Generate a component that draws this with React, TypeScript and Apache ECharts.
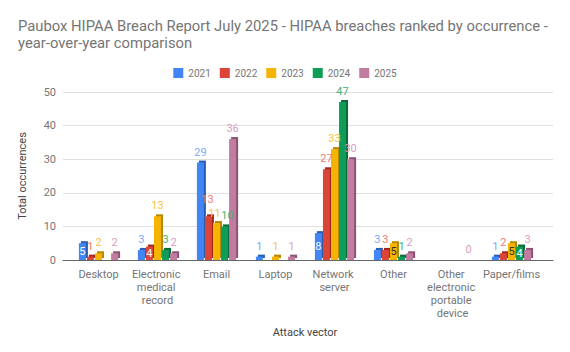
import React, { useEffect, useRef } from "react";
import * as echarts from "echarts";

const categories = [
  "Desktop",
  "Electronic medical record",
  "Email",
  "Laptop",
  "Network server",
  "Other",
  "Other electronic portable device",
  "Paper/films",
];
const years = ["2021", "2022", "2023", "2024", "2025"];
const v2021 = [5, 3, 29, 1, 8, 3, null, 1];
const v2022 = [1, 4, 13, null, 27, 3, null, 2];
const v2023 = [2, 13, 11, 1, 33, 5, null, 5];
const v2024 = [null, 3, 10, null, 47, 1, null, 4];
const v2025 = [2, 2, 36, 1, 30, 2, 0, 3];
const yTicks = [0, 10, 20, 30, 40, 50];

const seriesValues = [v2021, v2022, v2023, v2024, v2025];
const colors = ["#4285f4", "#db4437", "#f4b400", "#0f9d58", "#c27ba0"];
const shadeColors = ["#2a5db0", "#a3281d", "#b88700", "#08683a", "#8a5273"];
const labelColors = ["#7baaf7", "#f07b72", "#f7c443", "#45b07a", "#d79ebf"];
const insideText: Record<string, string> = {
  "0-0": "#ffffff",
  "1-1": "#ffffff",
  "0-4": "#ffffff",
  "2-5": "#333333",
  "2-7": "#333333",
  "3-7": "#ffffff",
};
const labelNudge: Record<string, number[]> = {
  "1-2": [-1, -6],
  "2-2": [-2, 1],
  "3-2": [3, 0],
};

const FONT = "Roboto, sans-serif";

export default function App() {
  const ref = useRef<HTMLDivElement>(null);
  useEffect(() => {
    document.body.style.margin = "0";
    if (!ref.current) return;
    const chart = echarts.init(ref.current, null, { renderer: "svg" });
    const series: any[] = seriesValues.map((vals, s) => ({
      name: years[s],
      type: "bar",
      xAxisIndex: 1,
      yAxisIndex: 1,
      barWidth: 7,
      barGap: "15%",
      itemStyle: {
        color: colors[s],
        shadowColor: shadeColors[s],
        shadowBlur: 0,
        shadowOffsetX: 2,
        shadowOffsetY: -2,
      },
      data: vals.map((v, c) => {
        const key = `${s}-${c}`;
        if (v === null) return null;
        if (insideText[key]) {
          return {
            value: v,
            label: {
              show: true,
              position: "inside",
              color: insideText[key],
              fontSize: 11,
              fontFamily: FONT,
            },
          };
        }
        if (labelNudge[key]) {
          return { value: v, label: { offset: labelNudge[key] } };
        }
        return { value: v };
      }),
      label: {
        show: true,
        position: "top",
        distance: 5,
        color: labelColors[s],
        fontSize: 11,
        fontFamily: FONT,
      },
    }));
    chart.setOption({
      animation: false,
      color: colors,
      textStyle: { fontFamily: FONT },
      title: {
        text: "Paubox HIPAA Breach Report July 2025 - HIPAA breaches ranked by occurrence -\nyear-over-year comparison",
        left: 13,
        top: 12,
        textStyle: {
          fontSize: 14.8,
          fontWeight: "normal",
          color: "#757575",
          fontFamily: FONT,
          lineHeight: 17,
        },
      },
      legend: {
        data: years,
        top: 63,
        left: "center",
        itemWidth: 10,
        itemHeight: 10,
        itemGap: 9,
        icon: "rect",
        textStyle: { color: "#757575", fontSize: 10, fontFamily: FONT },
      },
      grid: [
        { left: 63, right: 17, top: 92, bottom: 92 },
        { left: 69, right: 29, top: 92, bottom: 92 },
      ],
      xAxis: [
        {
          type: "category",
          gridIndex: 0,
          data: [],
          axisTick: { show: false },
          axisLabel: { show: false },
          axisLine: { lineStyle: { color: "#666666" } },
        },
        {
          type: "category",
          gridIndex: 1,
          data: categories,
          name: "Attack vector",
          nameLocation: "middle",
          nameGap: 67,
          nameTextStyle: { color: "#444444", fontSize: 11, fontFamily: FONT },
          axisTick: { show: false },
          axisLine: { show: false },
          axisLabel: {
            interval: 0,
            color: "#757575",
            fontSize: 11,
            fontFamily: FONT,
            width: 60,
            overflow: "break",
            lineHeight: 13,
            margin: 8,
          },
        },
      ],
      yAxis: [
        {
          type: "value",
          gridIndex: 0,
          min: yTicks[0],
          max: yTicks[yTicks.length - 1],
          interval: 10,
          name: "Total occurrences",
          nameLocation: "middle",
          nameGap: 35,
          nameTextStyle: { color: "#444444", fontSize: 11, fontFamily: FONT },
          axisLabel: { color: "#757575", fontSize: 11, fontFamily: FONT, margin: 7 },
          splitLine: { lineStyle: { color: "#e0e0e0" } },
        },
        {
          type: "value",
          gridIndex: 1,
          min: yTicks[0],
          max: yTicks[yTicks.length - 1],
          interval: 10,
          axisLabel: { show: false },
          splitLine: { show: false },
        },
      ],
      series,
    });
    return () => chart.dispose();
  }, []);
  return <div ref={ref} style={{ width: 570, height: 352 }} />;
}
